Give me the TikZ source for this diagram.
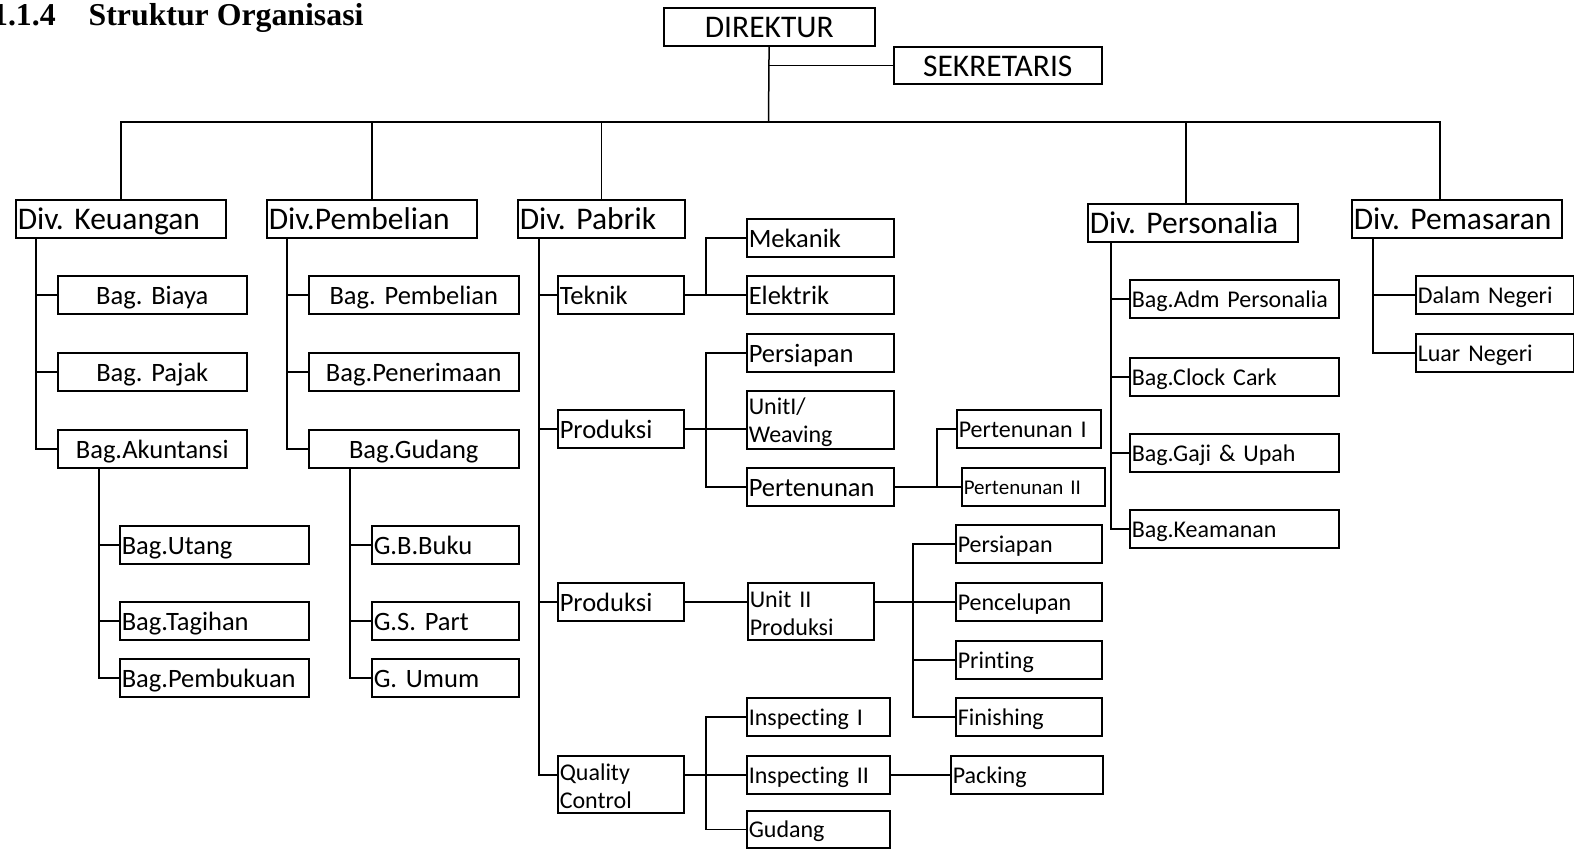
\documentclass[tikz,border=0pt]{standalone}
\usepackage{fontspec}
\setmainfont[Ligatures=NoCommon]{Carlito}
\newfontfamily\titlefont{Liberation Serif}
\usepackage{tikz}
\frenchspacing

\begin{document}
\begin{tikzpicture}[x=1pt,y=-1pt,line width=1.5pt,
  box/.style={draw,anchor=north west,inner xsep=2pt,inner ysep=0pt,minimum height=38pt,align=left},
  twoline/.style={text depth={},minimum height=#1},
  divbox/.style={box,text width=#1,font=\fontsize{31.5}{36}\selectfont,text height=28.4pt,text depth=6.3pt},
  bagbox/.style={box,text width=#1,font=\fontsize{26.5}{30}\selectfont,text height=23.9pt,text depth=5.3pt},
  subbox/.style={box,text width=#1,font=\fontsize{24}{28}\selectfont,text height=21.6pt,text depth=4.8pt},
  tinybox/.style={box,text width=#1,font=\fontsize{21}{25}\selectfont,text height=18.9pt,text depth=4.2pt}]
\useasboundingbox (0,0) rectangle (1574,849);
\node[anchor=base west,inner sep=0pt,font=\titlefont\bfseries\fontsize{31.8}{36}\selectfont] (title) at (-8.6,25) {1.1.4\hspace{33pt}Struktur Organisasi};
\node[divbox=207pt,align=center] (dir) at (663,7) {DIREKTUR};
\node[divbox=204pt,align=center,minimum height=37pt] (sek) at (893,46) {SEKRETARIS};
\node[divbox=206pt] (keu) at (15,199) {Div. Keuangan};
\node[divbox=206pt] (pemb) at (266,199) {Div.Pembelian};
\node[divbox=163pt] (pab) at (517,199) {Div. Pabrik};
\node[divbox=206pt] (pers) at (1087,203) {Div. Personalia};
\node[divbox=206pt] (pmr) at (1351,199) {Div. Pemasaran};
% keuangan
\node[bagbox=185pt,align=center] (biaya) at (57,275) {Bag. Biaya};
\node[bagbox=185pt,align=center] (pajak) at (57,352) {Bag. Pajak};
\node[bagbox=185pt,align=center] (akun) at (57,429) {Bag.Akuntansi};
\node[bagbox=185pt] (utang) at (119,525) {Bag.Utang};
\node[bagbox=185pt] (tagih) at (119,601) {Bag.Tagihan};
\node[bagbox=185pt] (buku) at (119,658) {Bag.Pembukuan};
% pembelian
\node[bagbox=206pt,align=center] (bpb) at (308,275) {Bag. Pembelian};
\node[bagbox=206pt,align=center] (terima) at (308,352) {Bag.Penerimaan};
\node[bagbox=206pt,align=center] (gud) at (308,429) {Bag.Gudang};
\node[bagbox=143pt] (gbb) at (371,525) {G.B.Buku};
\node[bagbox=143pt] (gsp) at (371,601) {G.S. Part};
\node[bagbox=143pt] (gum) at (371,658) {G. Umum};
% pabrik
\node[bagbox=122pt] (tek) at (557,275) {Teknik};
\node[bagbox=122pt] (prod) at (557,409) {Produksi};
\node[bagbox=122pt] (prodd) at (557,582) {Produksi};
\node[subbox=122pt,twoline=57pt] (qc) at (557,755) {Quality\\Control};
\node[bagbox=143pt] (mek) at (746,218) {Mekanik};
\node[bagbox=143pt] (elek) at (746,275) {Elektrik};
\node[bagbox=143pt] (siap) at (746,333) {Persiapan};
\node[subbox=143pt,twoline=58pt] (uniti) at (746,390) {UnitI/\\Weaving};
\node[bagbox=143pt] (tenun) at (746,467) {Pertenunan};
\node[subbox=140pt] (tenA) at (956,409) {Pertenunan I};
\node[tinybox=139pt] (tenB) at (961,467) {Pertenunan II};
\node[subbox=122pt,twoline=57pt] (unitii) at (747,582) {Unit II\\Produksi};
\node[subbox=142pt] (siapb) at (955,524) {Persiapan};
\node[subbox=142pt] (celup) at (955,582) {Pencelupan};
\node[subbox=142pt] (print) at (955,640) {Printing};
\node[subbox=142pt] (finish) at (955,697) {Finishing};
\node[subbox=139pt] (inspA) at (746,697) {Inspecting I};
\node[subbox=139pt] (inspB) at (746,755) {Inspecting II};
\node[subbox=139pt,minimum height=37pt] (gdg) at (746,810) {Gudang};
\node[subbox=148pt] (pack) at (950,755) {Packing};
% personalia, pemasaran
\node[subbox=205pt] (adm) at (1129,279) {Bag.Adm Personalia};
\node[subbox=205pt] (clock) at (1129,357) {Bag.Clock Cark};
\node[subbox=205pt] (gaji) at (1129,433) {Bag.Gaji \& Upah};
\node[subbox=205pt] (aman) at (1129,509) {Bag.Keamanan};
\node[subbox=154pt] (dalam) at (1415,275) {Dalam Negeri};
\node[subbox=154pt] (luar) at (1415,333) {Luar Negeri};

% lines
\coordinate (bus) at (768.5,122);
\draw (dir) -- (bus);
\draw (dir.south |- sek.west) -- (sek.west);
\draw (keu.north) |- (bus);
\draw (pemb.north) |- (bus);
\draw (pab.north) |- (bus);
\draw ([xshift=-7pt]pers.north) |- (bus);
\draw ([xshift=-17pt]pmr.north) |- (bus);
\foreach \c in {biaya,pajak,akun} \draw ([xshift=21pt]keu.south west) |- (\c.west);
\foreach \c in {utang,tagih,buku} \draw ([xshift=42pt]akun.south west) |- (\c.west);
\foreach \c in {bpb,terima,gud} \draw ([xshift=21pt]pemb.south west) |- (\c.west);
\foreach \c in {gbb,gsp,gum} \draw ([xshift=42pt]gud.south west) |- (\c.west);
\foreach \c in {tek,prod,prodd} \draw ([xshift=22pt]pab.south west) |- (\c.west);
\draw ([xshift=22pt]pab.south west) |- (qc.west |- inspB.west);
\draw (tek.east) -- (elek.west);
\draw (mek.west) -- ++(-40,0) |- (elek.west);
\draw (prod.east) -- (prod.east -| uniti.west);
\draw (siap.west) -- ++(-40,0) |- (tenun.west);
\draw (tenun.east) -- (tenB.west);
\draw (tenA.west) -- ++(-19,0) |- (tenB.west);
\draw (prodd.east) -- (prodd.east -| unitii.west);
\draw (unitii.east |- prodd.east) -- (celup.west);
\draw (siapb.west) -- ++(-42,0) |- (finish.west);
\draw (print.west) -- ++(-42,0);
\draw (qc.east |- inspB.west) -- (inspB.west);
\draw (inspA.west) -- ++(-40,0) |- (gdg.west);
\draw (inspB.east) -- (pack.west);
\foreach \c in {adm,clock,gaji,aman} \draw ([xshift=24pt]pers.south west) |- (\c.west);
\foreach \c in {dalam,luar} \draw ([xshift=22pt]pmr.south west) |- (\c.west);
\end{tikzpicture}
\end{document}
